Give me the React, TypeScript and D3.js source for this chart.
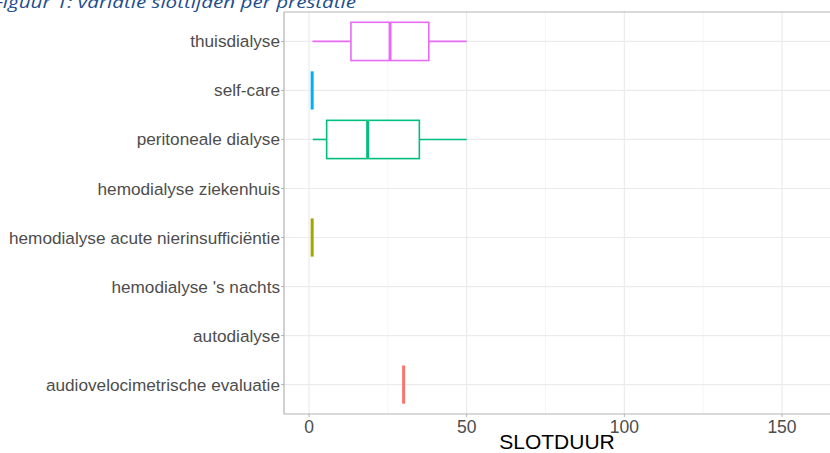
import React from "react";
import * as d3 from "d3";

const categories = [
  "audiovelocimetrische evaluatie",
  "autodialyse",
  "hemodialyse 's nachts",
  "hemodialyse acute nierinsufficiëntie",
  "hemodialyse ziekenhuis",
  "peritoneale dialyse",
  "self-care",
  "thuisdialyse",
];

const boxCategories = [
  "audiovelocimetrische evaluatie",
  "hemodialyse acute nierinsufficiëntie",
  "peritoneale dialyse",
  "self-care",
  "thuisdialyse",
];
const whiskerLow = [30, 1, 1.2, 1, 1.1];
const q1 = [30, 1, 5.6, 1, 13.3];
const median = [30, 1, 18.6, 1, 25.7];
const q3 = [30, 1, 35, 1, 38];
const whiskerHigh = [30, 1, 50, 1, 50];
const colors = ["#F8766D", "#A3A500", "#00BF7D", "#00B0F6", "#E76BF3"];

const xTicks = [0, 50, 100, 150];
const xMinor = [25, 75, 125, 175];

const W = 830;
const H = 453;
const left = 284;
const right = 834;
const top = 12;
const bottom = 414;

export default function App() {
  const x = d3.scaleLinear().domain([0, 150]).range([309, 782]);
  const y = d3
    .scalePoint<string>()
    .domain([...categories].reverse())
    .range([top, bottom])
    .padding(0.6);
  const step = y.step();
  const bw = step * 0.78;
  const font = "'Liberation Sans', Arial, sans-serif";

  return (
    <svg
      width={W}
      height={H}
      style={{ position: "absolute", left: 0, top: 0, background: "#fff" }}
    >
      <text
        x={-7}
        y={7.5}
        fontFamily="'Open Sans', 'Liberation Sans', sans-serif"
        fontStyle="italic"
        fontSize={17}
        fill="#1F4E8C"
        textLength={363}
        lengthAdjust="spacingAndGlyphs"
      >
        Figuur 1: variatie slottijden per prestatie
      </text>
      <rect x={left} y={top} width={right - left} height={bottom - top} fill="#fff" />
      {xMinor.map((t) => (
        <line key={"mn" + t} x1={x(t)} x2={x(t)} y1={top} y2={bottom} stroke="#F5F5F5" strokeWidth={1} />
      ))}
      {xTicks.map((t) => (
        <line key={"mj" + t} x1={x(t)} x2={x(t)} y1={top} y2={bottom} stroke="#EBEBEB" strokeWidth={1.2} />
      ))}
      {categories.map((c) => (
        <line key={"hg" + c} x1={left} x2={right} y1={y(c)!} y2={y(c)!} stroke="#EBEBEB" strokeWidth={1.2} />
      ))}
      {boxCategories.map((c, i) => {
        const cy = y(c)!;
        const col = colors[i];
        return (
          <g key={c} stroke={col} fill="#fff">
            <line x1={x(whiskerLow[i])} x2={x(q1[i])} y1={cy} y2={cy} strokeWidth={1.6} />
            <line x1={x(q3[i])} x2={x(whiskerHigh[i])} y1={cy} y2={cy} strokeWidth={1.6} />
            <rect
              x={x(q1[i])}
              y={cy - bw / 2}
              width={Math.max(0, x(q3[i]) - x(q1[i]))}
              height={bw}
              strokeWidth={1.6}
            />
            <line x1={x(median[i])} x2={x(median[i])} y1={cy - bw / 2} y2={cy + bw / 2} strokeWidth={3} />
          </g>
        );
      })}
      <line x1={left} x2={right} y1={top} y2={top} stroke="#B3B3B3" strokeWidth={1.2} />
      <line x1={left} x2={left} y1={top} y2={bottom} stroke="#B3B3B3" strokeWidth={1.2} />
      <line x1={left} x2={right} y1={bottom} y2={bottom} stroke="#B3B3B3" strokeWidth={1.2} />
      {categories.map((c) => (
        <g key={"yl" + c}>
          <line x1={left - 3} x2={left} y1={y(c)!} y2={y(c)!} stroke="#B3B3B3" strokeWidth={1} />
          <text
            x={left - 4}
            y={y(c)!}
            dy="0.35em"
            textAnchor="end"
            fontFamily={font}
            fontSize={17.2}
            fill="#4D4D4D"
          >
            {c}
          </text>
        </g>
      ))}
      {xTicks.map((t) => (
        <g key={"xl" + t}>
          <line x1={x(t)} x2={x(t)} y1={bottom} y2={bottom + 3} stroke="#B3B3B3" strokeWidth={1} />
          <text x={x(t)} y={bottom + 18.5} textAnchor="middle" fontFamily={font} fontSize={17.5} fill="#4D4D4D">
            {t}
          </text>
        </g>
      ))}
      <text x={(left + 830) / 2} y={448.5} textAnchor="middle" fontFamily={font} fontSize={21} fill="#000">
        SLOTDUUR
      </text>
    </svg>
  );
}
